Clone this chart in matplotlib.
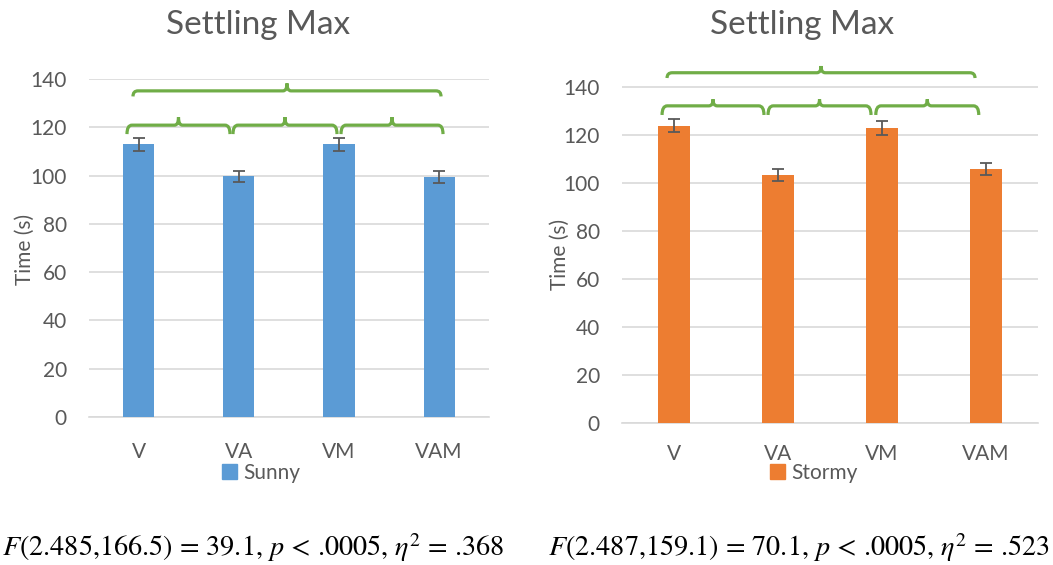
#! /usr/bin/env python3
import matplotlib
matplotlib.use("Agg")
import matplotlib.pyplot as plt
from matplotlib.path import Path
from matplotlib.patches import PathPatch, Patch

""" Settling Max: Sunny vs Stormy bar charts with comparison braces """

categories = ['V', 'VA', 'VM', 'VAM']
sunny = [113.0, 99.7, 112.9, 99.4]
sunny_err = [2.7, 2.4, 2.6, 2.5]
stormy = [123.8, 103.2, 122.8, 105.7]
stormy_err = [2.7, 2.6, 2.8, 2.6]
yticks = [0, 20, 40, 60, 80, 100, 120, 140]
sunny_stats = r"$F$(2.485,166.5) = 39.1, $p$ < .0005, $\eta^2$ = .368"
stormy_stats = r"$F$(2.487,159.1) = 70.1, $p$ < .0005, $\eta^2$ = .523"

GRAY = '#595959'
GREEN = '#70AD47'

plt.rcParams['font.family'] = ['Lato', 'DejaVu Sans']
plt.rcParams['mathtext.fontset'] = 'stix'


def brace(ax, x0, x1, yl, ye, yt, r=0.05, t=0.04):
    """Draw a horizontal curly brace in data coords"""
    xm = (x0 + x1) / 2
    verts = [(x0, ye), (x0, yl), (x0 + r, yl),
             (xm - t, yl), (xm, yl), (xm, yt),
             (xm, yl), (xm + t, yl),
             (x1 - r, yl), (x1, yl), (x1, ye)]
    codes = [Path.MOVETO, Path.CURVE3, Path.CURVE3,
             Path.LINETO, Path.CURVE3, Path.CURVE3,
             Path.CURVE3, Path.CURVE3,
             Path.LINETO, Path.CURVE3, Path.CURVE3]
    ax.add_patch(PathPatch(Path(verts, codes), fill=False, ec=GREEN,
                           lw=2.3, clip_on=False, capstyle='butt', zorder=5))


def draw(ax, values, errs, color, ymax):
    x = range(len(categories))
    ax.bar(x, values, width=0.31, color=color, zorder=3,
           yerr=errs, ecolor=GRAY, capsize=4.5,
           error_kw={'elinewidth': 1.3, 'capthick': 1.3})
    ax.set_xlim(-0.5, len(categories) - 0.5)
    ax.set_ylim(0, ymax)
    ax.set_yticks(yticks)
    ax.set_xticks(list(x))
    ax.set_xticklabels(categories)
    ax.grid(axis='y', color='#D9D9D9', lw=1.2, zorder=0)
    ax.set_axisbelow(True)
    for s in ['top', 'right', 'left']:
        ax.spines[s].set_visible(False)
    ax.spines['bottom'].set_color('#D9D9D9')
    ax.spines['bottom'].set_linewidth(1.2)
    ax.tick_params(axis='y', length=0, pad=16, labelsize=15, labelcolor=GRAY)


fig = plt.figure(figsize=(10.53, 5.65), dpi=100)

ax1 = fig.add_axes([0.0845, 0.2619, 0.3799, 0.5982])
draw(ax1, sunny, sunny_err, '#5B9BD5', 140)
ax1.tick_params(axis='x', length=0, pad=18, labelsize=15, labelcolor=GRAY)
for a, b in [(-0.12, 0.91), (0.94, 1.98), (2.02, 3.04)]:
    brace(ax1, a, b, 120.9, 117.2, 124.2)
brace(ax1, -0.06, 3.02, 135.1, 132.8, 138.2)

ax2 = fig.add_axes([0.5907, 0.2519, 0.3951, 0.6372])
draw(ax2, stormy, stormy_err, '#ED7D31', 150)
ax2.tick_params(axis='x', length=0, pad=15, labelsize=15, labelcolor=GRAY)
for a, b in [(-0.115, 0.865), (0.904, 1.894), (1.94, 2.93)]:
    brace(ax2, a, b, 132.0, 128.2, 134.75)
brace(ax2, -0.067, 2.894, 145.8, 143.6, 148.6)

# titles, axis labels, legends
for xc in [0.245, 0.762]:
    fig.text(xc, 0.956, 'Settling Max', ha='center', va='center', fontsize=24, color=GRAY)
for xl, yl in [(0.024, 0.558), (0.532, 0.549)]:
    fig.text(xl, yl, 'Time (s)', rotation=90, ha='center', va='center', fontsize=15, color=GRAY)

ax1.legend(handles=[Patch(color='#5B9BD5', label='Sunny')], loc='center',
           bbox_to_anchor=(0.248, 0.163), bbox_transform=fig.transFigure,
           frameon=False, fontsize=15, labelcolor=GRAY, handlelength=0.7,
           handleheight=0.7, handletextpad=0.3)
ax2.legend(handles=[Patch(color='#ED7D31', label='Stormy')], loc='center',
           bbox_to_anchor=(0.773, 0.163), bbox_transform=fig.transFigure,
           frameon=False, fontsize=15, labelcolor=GRAY, handlelength=0.7,
           handleheight=0.7, handletextpad=0.3)

fig.text(0.002, 0.030, sunny_stats, ha='left', va='center', fontsize=20.3,
         color='black', family='STIXGeneral')
fig.text(0.520, 0.030, stormy_stats, ha='left', va='center', fontsize=20.3,
         color='black', family='STIXGeneral')

fig.savefig('out.png', dpi=100)
